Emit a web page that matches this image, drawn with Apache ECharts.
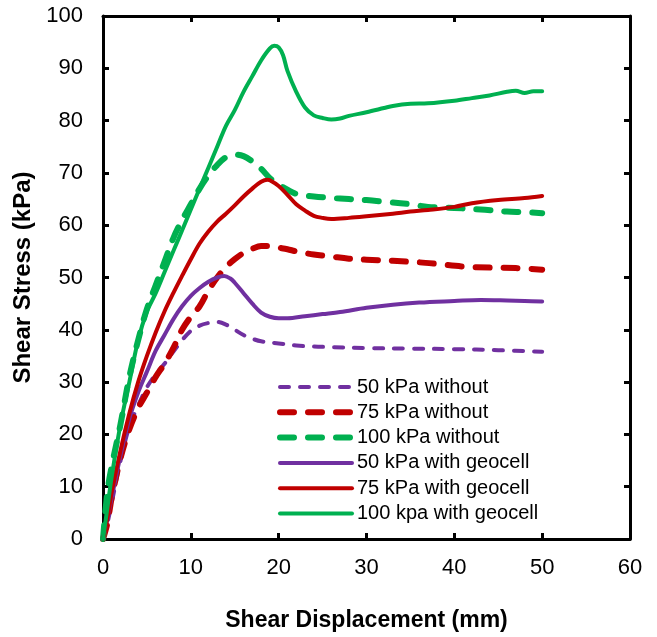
<!DOCTYPE html>
<html>
<head>
<meta charset="utf-8">
<script src="https://cdn.jsdelivr.net/npm/echarts@6/dist/echarts.min.js"></script>
<style>html,body{margin:0;padding:0;background:#fff;}#c{width:657px;height:637px;}</style>
</head>
<body>
<div id="c"></div>
<script>
// ---- Data ----
const seriesNames = ['50 kPa without', '75 kPa without', '100 kPa without', '50 kPa with geocell', '75 kPa with geocell', '100 kpa with geocell'];

const x50w = [0, 0.5, 1, 2, 3, 4, 5, 6, 7, 8, 9, 10, 11, 12, 13, 14, 15, 16, 17, 18, 20, 22, 24, 26, 30, 35, 40, 45, 50];
const y50w = [0, 3, 7, 15, 21.5, 25.5, 29, 31.5, 33.5, 35.8, 38, 39.8, 40.8, 41.3, 41.5, 41, 40, 39, 38.3, 37.8, 37.4, 37, 36.8, 36.7, 36.5, 36.4, 36.3, 36.1, 35.8];

const x75w = [0, 0.5, 0.8, 1, 2, 3, 4, 5, 6, 7, 8, 9, 10, 11, 12, 13, 14, 15, 16, 17, 18, 19, 20, 21, 22, 24, 26, 28, 30, 33, 36, 38, 41, 44, 47, 50];
const y75w = [0, 3, 6, 8, 15.5, 21, 25, 28, 31, 33.5, 36.5, 40, 42.5, 44.5, 47.5, 50, 52, 53.5, 54.7, 55.5, 56, 56, 55.7, 55.4, 55, 54.4, 54, 53.6, 53.4, 53.2, 52.9, 52.6, 52.1, 51.9, 51.8, 51.5];

const x100w = [0, 0.5, 1, 2, 3, 4, 5, 6, 7, 8, 9, 10, 11, 12, 13, 14, 15, 16, 17, 18, 19, 20, 21, 22, 24, 26, 28, 30, 32, 35, 37, 40, 43, 46, 48, 50];
const y100w = [0, 9, 14, 22, 31, 38, 44, 48.5, 53, 57.5, 61, 64, 67, 69.5, 71.5, 73, 73.5, 73.2, 72.2, 70.8, 69, 67.8, 66.8, 66, 65.5, 65.2, 65, 64.8, 64.5, 64, 63.5, 63.3, 63, 62.6, 62.5, 62.3];

const x50g = [0, 0.5, 1, 2, 3, 4, 5, 6, 7, 8, 9, 10, 11, 12, 13, 13.8, 14.5, 15, 16, 17, 18, 19, 20, 21, 23, 25, 27, 30, 33, 36, 40, 43, 46, 48, 50];
const y50g = [0, 4, 8, 16, 23, 28, 32, 36, 39, 42, 44.5, 46.5, 48, 49.2, 50, 50.3, 49.8, 49, 47, 45, 43.3, 42.5, 42.2, 42.2, 42.6, 43, 43.4, 44.2, 44.8, 45.2, 45.5, 45.7, 45.6, 45.5, 45.4];

const x75g = [0, 0.5, 1, 2, 3, 4, 5, 6, 7, 8, 9, 10, 11, 12, 13, 14, 15, 16, 17, 18, 18.7, 19, 20, 21, 22, 23, 24, 25, 26, 28, 30, 33, 35, 37, 40, 42, 45, 48, 50];
const y75g = [0, 4, 9, 17, 24, 30, 35, 39.5, 43.5, 47, 50.3, 53.5, 56.5, 58.8, 60.7, 62.2, 63.8, 65.5, 67, 68.3, 68.7, 68.6, 67.5, 65.8, 64, 62.8, 61.8, 61.4, 61.2, 61.4, 61.7, 62.2, 62.6, 62.9, 63.5, 64.2, 64.8, 65.2, 65.6];

const x100g = [0, 0.5, 1, 2, 3, 4, 5, 6, 7, 8, 9, 10, 11, 12, 13, 14, 15, 16, 17, 18, 19, 19.5, 20, 20.5, 21, 22, 23, 24, 25, 26, 27, 28, 30, 32, 33, 35, 37, 40, 42, 44, 46, 47, 48, 49, 50];
const y100g = [0, 6, 12, 22, 30, 38, 43.5, 47, 51, 55, 59, 63, 67, 71, 75, 79, 82, 85.5, 88.5, 91.5, 93.8, 94.3, 94, 92.5, 89.5, 85.5, 82.5, 81, 80.5, 80.2, 80.4, 80.9, 81.6, 82.4, 82.8, 83.2, 83.3, 83.8, 84.3, 84.8, 85.5, 85.7, 85.3, 85.6, 85.6];

const xTicks = {min: 0, max: 60, interval: 10};
const yTicks = {min: 0, max: 100, interval: 10};

// ---- Chart ----
const PURPLE = '#7030A0', RED = '#C00000', GREEN = '#00B050';
const FONT = '"Liberation Sans", Arial, sans-serif';
function zip(xs, ys) { return xs.map((x, i) => [x, ys[i]]); }

const chart = echarts.init(document.getElementById('c'), null, {renderer: 'canvas'});

const axisCommon = {
  axisLine: {show: true, onZero: false, lineStyle: {color: '#000', width: 3}},
  axisTick: {show: true, inside: true, length: 6, lineStyle: {color: '#000', width: 3}},
  splitLine: {show: false}
};

function lineSeries(name, xs, ys, color, width, dash) {
  return {
    name: name, type: 'line', data: zip(xs, ys), showSymbol: false, symbol: 'none',
    smooth: 0.35, animation: false,
    lineStyle: {color: color, width: width, type: dash || 'solid', cap: 'round', join: 'round'},
    itemStyle: {color: color}
  };
}

chart.setOption({
  animation: false,
  backgroundColor: '#fff',
  grid: {left: 103, right: 27, top: 16, bottom: 98, containLabel: false},
  xAxis: [
    Object.assign({
      type: 'value', position: 'bottom', min: xTicks.min, max: xTicks.max, interval: xTicks.interval,
      name: 'Shear Displacement (mm)', nameLocation: 'middle', nameGap: 70,
      nameTextStyle: {fontFamily: FONT, fontSize: 23, fontWeight: 'bold', color: '#000'},
      axisLabel: {fontFamily: FONT, fontSize: 22, color: '#000', margin: 18}
    }, axisCommon),
    Object.assign({
      type: 'value', position: 'top', min: xTicks.min, max: xTicks.max, interval: xTicks.interval,
      axisLabel: {show: false}
    }, axisCommon)
  ],
  yAxis: [
    Object.assign({
      type: 'value', position: 'left', min: yTicks.min, max: yTicks.max, interval: yTicks.interval,
      name: 'Shear Stress (kPa)', nameLocation: 'middle', nameGap: 60, nameRotate: 90,
      nameTextStyle: {fontFamily: FONT, fontSize: 24, fontWeight: 'bold', color: '#000'},
      axisLabel: {fontFamily: FONT, fontSize: 22, color: '#000', margin: 20}
    }, axisCommon),
    Object.assign({
      type: 'value', position: 'right', min: yTicks.min, max: yTicks.max, interval: yTicks.interval,
      axisLabel: {show: false}
    }, axisCommon)
  ],
  legend: {
    orient: 'vertical', left: 272, top: 372,
    itemWidth: 72, itemHeight: 14, itemGap: 5.3,
    itemStyle: {opacity: 0},
    lineStyle: {width: 'inherit', type: 'inherit', cap: 'round'},
    textStyle: {fontFamily: FONT, fontSize: 20, color: '#000', lineHeight: 20},
    data: seriesNames
  },
  series: [
    lineSeries(seriesNames[0], x50w, y50w, PURPLE, 4, [9, 11]),
    lineSeries(seriesNames[1], x75w, y75w, RED, 6, [14, 14]),
    lineSeries(seriesNames[2], x100w, y100w, GREEN, 6, [14, 14]),
    lineSeries(seriesNames[3], x50g, y50g, PURPLE, 4),
    lineSeries(seriesNames[4], x75g, y75g, RED, 4),
    lineSeries(seriesNames[5], x100g, y100g, GREEN, 4)
  ]
});
</script>
</body>
</html>
